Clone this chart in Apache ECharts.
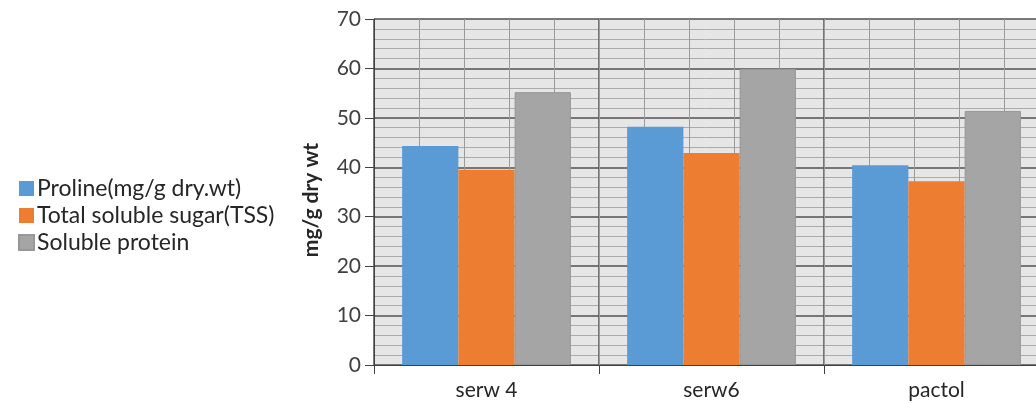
<!DOCTYPE html>
<html>
<head>
<meta charset="utf-8">
<style>
  html, body { margin: 0; padding: 0; background: #ffffff; }
  #chart { width: 1036px; height: 404px; }
</style>
<script src="https://cdn.jsdelivr.net/npm/echarts@6/dist/echarts.min.js"></script>
</head>
<body>
<div id="chart"></div>
<script>
// Cultivars on the category axis
const categories = ['serw 4', 'serw6', 'pactol'];

// Measured contents per cultivar
const seriesNames = ['Proline(mg/g dry.wt)', 'Total soluble sugar(TSS)', 'Soluble protein'];
const proline = [44.3, 48.2, 40.4];
const solubleSugar = [39.5, 42.9, 37.2];
const solubleProtein = [55.2, 59.9, 51.4];

// Value axis ticks
const yTicks = [0, 10, 20, 30, 40, 50, 60, 70];

const colors = ['#5B9BD5', '#ED7D31', '#A5A5A5'];
const font = 'Lato, "Open Sans", "Liberation Sans", sans-serif';

const chart = echarts.init(document.getElementById('chart'), null, { renderer: 'canvas' });

chart.setOption({
  animation: false,
  backgroundColor: '#ffffff',
  textStyle: { fontFamily: font },
  legend: {
    orient: 'vertical',
    left: 13,
    top: 172,
    itemWidth: 15,
    itemHeight: 15,
    itemGap: 4,
    icon: 'rect',
    textStyle: { fontSize: 23, color: '#262626', fontFamily: font, padding: [0, 0, 0, -2] },
    data: seriesNames
  },
  grid: {
    left: 374,
    top: 19,
    height: 346,
    width: 675,
    outerBoundsMode: 'none',
    show: true,
    backgroundColor: '#e6e6e6',
    borderWidth: 0
  },
  xAxis: [
    {
      type: 'category',
      data: categories,
      axisLine: { show: true, lineStyle: { color: '#404040', width: 1 } },
      axisTick: { show: true, length: 9, lineStyle: { color: '#404040' } },
      axisLabel: { fontSize: 21, color: '#262626', margin: 15, fontFamily: font },
      splitLine: { show: true, lineStyle: { color: '#505050', width: 1.5 } }
    },
    {
      // fine vertical rule lines, five per category
      type: 'value',
      min: 0,
      max: 15,
      interval: 1,
      position: 'bottom',
      axisLine: { show: false },
      axisTick: { show: false },
      axisLabel: { show: false },
      splitLine: { show: true, lineStyle: { color: '#9a9a9a', width: 1 } }
    }
  ],
  yAxis: {
    type: 'value',
    min: yTicks[0],
    max: yTicks[yTicks.length - 1],
    interval: 10,
    name: 'mg/g dry wt',
    nameLocation: 'middle',
    nameRotate: 90,
    nameGap: 52,
    nameTextStyle: { fontSize: 21, fontWeight: 'bold', color: '#262626', fontFamily: font, padding: [0, 16, 0, 0] },
    axisLine: { show: true, lineStyle: { color: '#404040', width: 1 } },
    axisTick: { show: true, length: 9, lineStyle: { color: '#404040' } },
    axisLabel: { fontSize: 21, color: '#404040', margin: 13, fontFamily: font },
    splitLine: { show: true, lineStyle: { color: '#505050', width: 1.5 } },
    minorTick: { show: false, splitNumber: 5 },
    minorSplitLine: { show: true, lineStyle: { color: '#ababab', width: 1 } }
  },
  series: [
    { name: seriesNames[0], type: 'bar', data: proline, itemStyle: { color: colors[0] }, barGap: '0%', barCategoryGap: '25%' },
    { name: seriesNames[1], type: 'bar', data: solubleSugar, itemStyle: { color: colors[1] }, barGap: '0%', barCategoryGap: '25%' },
    { name: seriesNames[2], type: 'bar', data: solubleProtein, itemStyle: { color: colors[2], borderColor: '#979797', borderWidth: 1 }, barGap: '0%', barCategoryGap: '25%' }
  ]
});
</script>
</body>
</html>
